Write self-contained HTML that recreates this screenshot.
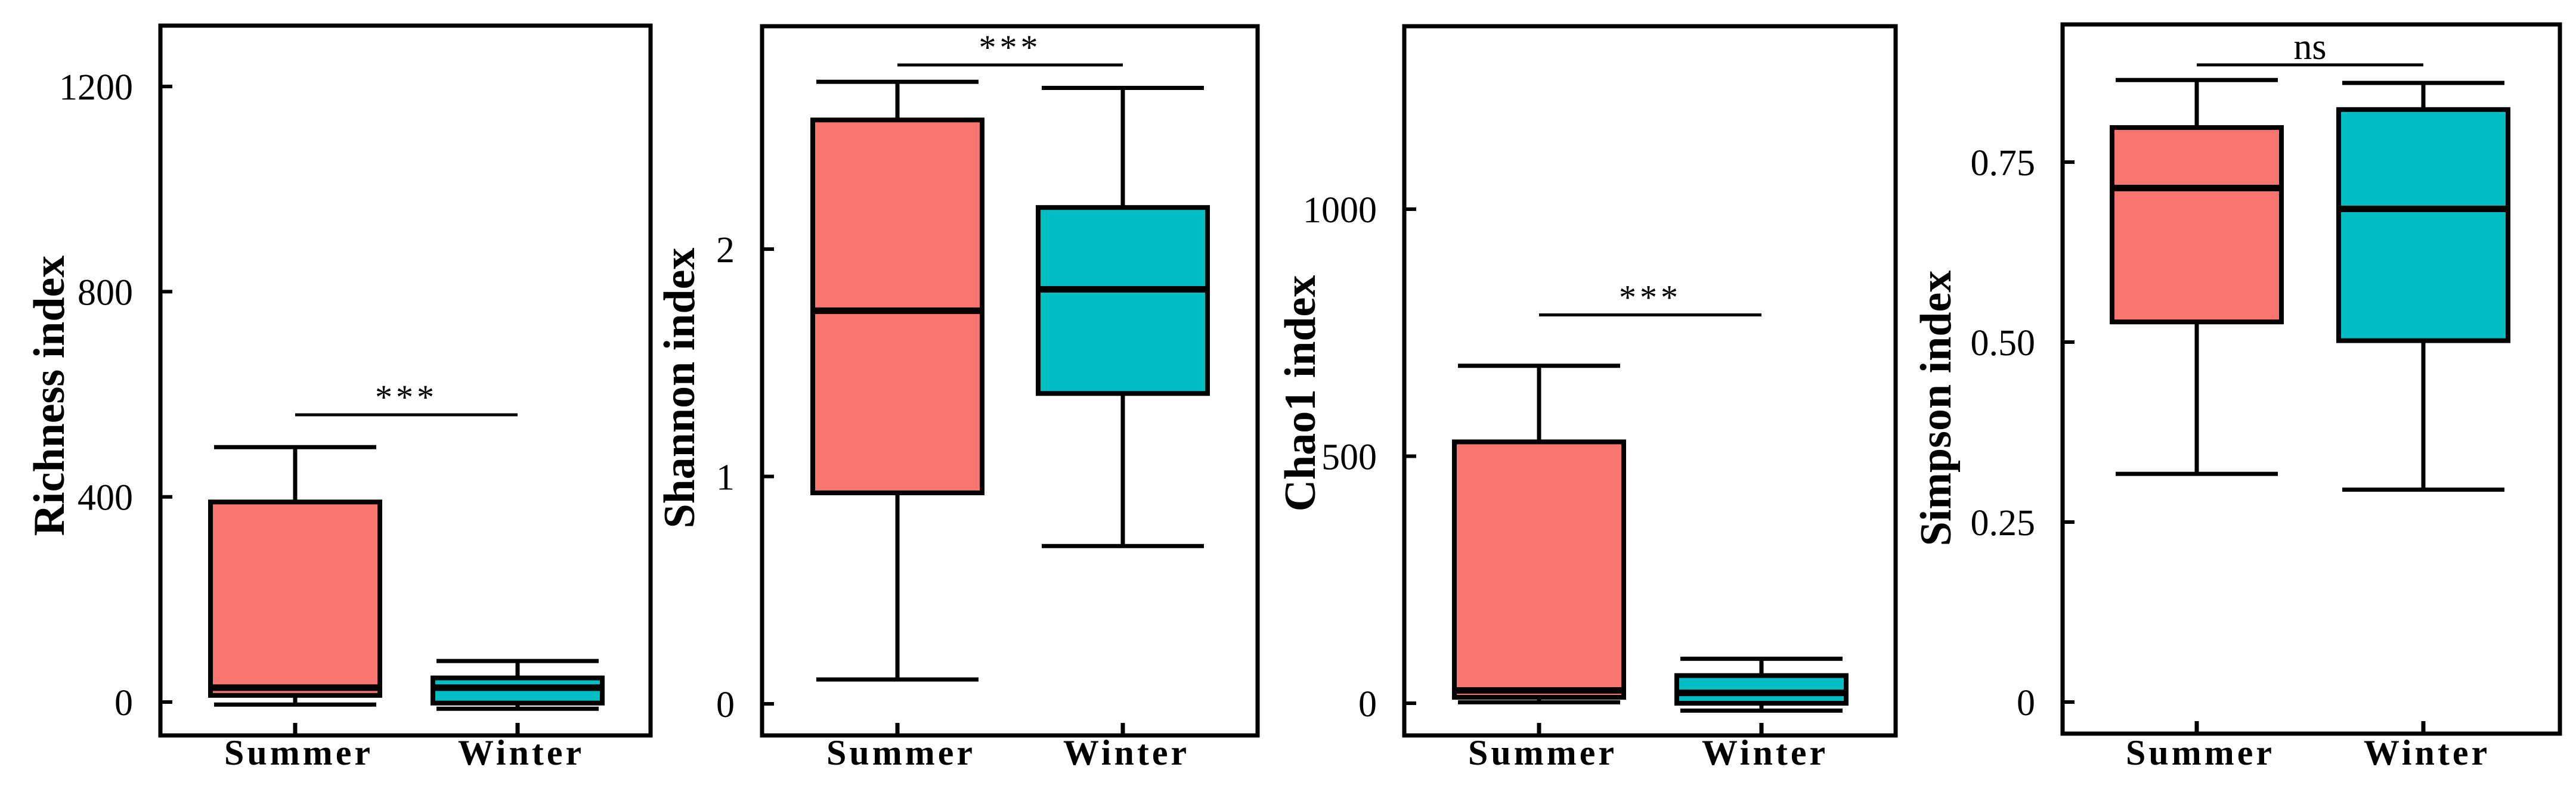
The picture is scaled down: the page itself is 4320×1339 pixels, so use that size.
<!DOCTYPE html>
<html><head><meta charset="utf-8">
<style>
html,body{margin:0;padding:0;background:#fff;}
svg{display:block;font-family:"Liberation Serif",serif;}
</style></head>
<body>
<svg id="chart" width="4320" height="1339" viewBox="0 0 4320 1339" xmlns="http://www.w3.org/2000/svg"></svg>
<script>
// categories
const groups = ["Summer", "Winter"];
// five-number summaries [lowerWhisker, q1, median, q3, upperWhisker]
const richnessSummer = [-5, 13, 28, 390, 497];
const richnessWinter = [-13, -2, 28, 47, 80];
const shannonSummer = [0.107, 0.928, 1.729, 2.568, 2.736];
const shannonWinter = [0.694, 1.365, 1.823, 2.183, 2.709];
const chao1Summer = [2, 12, 26, 529, 683];
const chao1Winter = [-15, 0, 21, 56, 90];
const simpsonSummer = [0.317, 0.528, 0.714, 0.798, 0.864];
const simpsonWinter = [0.295, 0.502, 0.685, 0.823, 0.860];
// tick values & labels
const richnessTicks = [0, 400, 800, 1200];
const richnessTickLabels = ["0", "400", "800", "1200"];
const shannonTicks = [0, 1, 2];
const shannonTickLabels = ["0", "1", "2"];
const chao1Ticks = [0, 500, 1000];
const chao1TickLabels = ["0", "500", "1000"];
const simpsonTicks = [0, 0.25, 0.5, 0.75];
const simpsonTickLabels = ["0", "0.25", "0.50", "0.75"];
// significance
const sigLabels = ["***", "***", "***", "ns"];
const sigValues = [560, 2.81, 786, 0.885];

const NS = "http://www.w3.org/2000/svg";
const svg = document.getElementById("chart");
function mk(tag, attrs, parent) {
  const e = document.createElementNS(NS, tag);
  for (const k in attrs) e.setAttribute(k, attrs[k]);
  (parent || svg).appendChild(e);
  return e;
}
const colors = ["#F8766D", "#00BFC4"];
const panels = [
  {name:"richness", title:"Richness index", data:[richnessSummer, richnessWinter], ticks:richnessTicks, labels:richnessTickLabels,
   fx0:269, fx1:1091, fy0:43, fy1:1234, y0:1178, unit:400, px:344.3, cx:[495,868], tx:83, ty:664},
  {name:"shannon", title:"Shannon index", data:[shannonSummer, shannonWinter], ticks:shannonTicks, labels:shannonTickLabels,
   fx0:1278, fx1:2109, fy0:44, fy1:1234, y0:1181, unit:1, px:381.5, cx:[1505,1883], tx:1140, ty:651},
  {name:"chao1", title:"Chao1 index", data:[chao1Summer, chao1Winter], ticks:chao1Ticks, labels:chao1TickLabels,
   fx0:2355, fx1:3179, fy0:44, fy1:1234, y0:1180, unit:500, px:414.5, cx:[2581,2954], tx:2181, ty:660},
  {name:"simpson", title:"Simpson index", data:[simpsonSummer, simpsonWinter], ticks:simpsonTicks, labels:simpsonTickLabels,
   fx0:3459, fx1:4293, fy0:41, fy1:1231, y0:1178, unit:0.25, px:302, cx:[3684,4064], tx:3247, ty:685}
];

panels.forEach((p, pi) => {
  const g = mk("g", {});
  
  
  const y = v => p.y0 - v / p.unit * p.px;

  p.ticks.forEach((t, i) => {
    const ty = y(t);
    const tl = mk("line", {x1:p.fx0, x2:p.fx0+20, y1:ty, y2:ty, stroke:"#000", "stroke-width":6}, g);
    
    
    const tt = mk("text", {x:p.fx0-46, y:ty+2, "text-anchor":"end", "dominant-baseline":"central", "font-size":62, fill:"#000"}, g);
    tt.textContent = p.labels[i];
    
    
  });

  const yt = mk("text", {x:p.tx, y:p.ty, transform:`rotate(-90 ${p.tx} ${p.ty})`, "text-anchor":"middle", "dominant-baseline":"central", "font-size":74, "font-weight":"bold", fill:"#000"}, g);
  yt.textContent = p.title;
  
  

  p.data.forEach((d, gi) => {
    const cx = p.cx[gi];
    const bg = mk("g", {}, g);
    
    
    mk("line", {x1:cx, x2:cx, y1:y(d[4]), y2:y(d[3]), stroke:"#000", "stroke-width":7}, bg);
    mk("line", {x1:cx, x2:cx, y1:y(d[1]), y2:y(d[0]), stroke:"#000", "stroke-width":7}, bg);
    mk("line", {x1:cx-136, x2:cx+136, y1:y(d[4]), y2:y(d[4]), stroke:"#000", "stroke-width":7}, bg);
    mk("line", {x1:cx-136, x2:cx+136, y1:y(d[0]), y2:y(d[0]), stroke:"#000", "stroke-width":7}, bg);
    mk("rect", {x:cx-142, y:y(d[3]), width:284, height:Math.max(1, y(d[1])-y(d[3])), fill:colors[gi], stroke:"#000", "stroke-width":8}, bg);
    mk("line", {x1:cx-142, x2:cx+142, y1:y(d[2]), y2:y(d[2]), stroke:"#000", "stroke-width":11}, bg);
  });

  const fr = mk("rect", {x:p.fx0, y:p.fy0, width:p.fx1-p.fx0, height:p.fy1-p.fy0, fill:"none", stroke:"#000", "stroke-width":7}, g);
  
  

  groups.forEach((gname, gi) => {
    const cx = p.cx[gi];
    mk("line", {x1:cx, x2:cx, y1:p.fy1, y2:p.fy1-21, stroke:"#000", "stroke-width":7}, g);
    const xl = mk("text", {x:cx+6, y:1283, "text-anchor":"middle", "font-size":60, "font-weight":"bold", "letter-spacing":5, fill:"#000"}, g);
    xl.textContent = gname;
    
    
  });

  const sy = y(sigValues[pi]);
  const sl = mk("line", {x1:p.cx[0], x2:p.cx[1], y1:sy, y2:sy, stroke:"#000", "stroke-width":5}, g);
  
  
  const st = mk("text", {x:(p.cx[0]+p.cx[1])/2, y:sy-10, "text-anchor":"middle", "font-size": sigLabels[pi]==="ns" ? 62 : 58, "letter-spacing": sigLabels[pi]==="ns" ? 0 : 6, fill:"#000"}, g);
  st.textContent = sigLabels[pi];
  
  
});
</script>
</body></html>
